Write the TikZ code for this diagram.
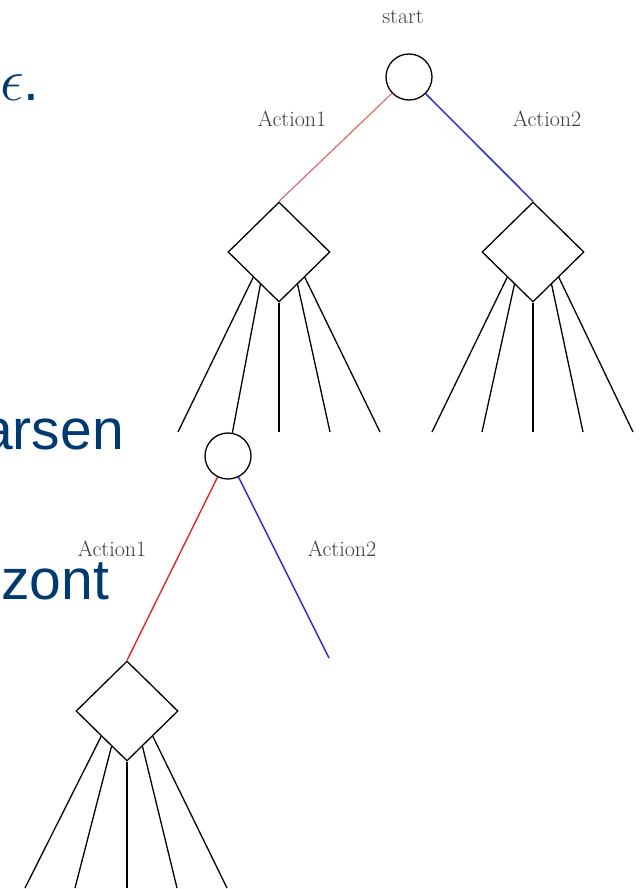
\RequirePackage{fix-cm}
\documentclass[tikz,border=0pt]{standalone}
\usepackage{fontspec}
\newfontfamily\slidefont{Liberation Sans}
\usetikzlibrary{shapes.geometric,calc}
\definecolor{slideblue}{HTML}{003A70}
\definecolor{lblgray}{HTML}{3C3C3C}
\definecolor{redA}{HTML}{E06A6A}
\definecolor{redB}{HTML}{E02828}
\definecolor{blueA}{HTML}{2E2ED2}
\tikzset{
  chance/.style={circle, draw=black, line width=1.3pt, minimum size=46pt, inner sep=0pt},
  decision/.style={diamond, draw=black, line width=1.3pt, minimum width=102pt, minimum height=100pt, inner sep=0pt},
  branch/.style={line width=1.3pt, black},
  act/.style={font=\fontsize{22}{24}\selectfont, text=lblgray, anchor=base, inner sep=0pt},
  slide/.style={font=\slidefont\fontsize{57}{60}\selectfont, text=slideblue, anchor=base west, inner sep=0pt},
  redline/.style={line width=1.2pt, redA},
  redline2/.style={line width=1.4pt, redB},
  blueline/.style={line width=1.5pt, blueA}
}
\begin{document}
\begin{tikzpicture}[x=1pt,y=-1pt]
\useasboundingbox (0,0) rectangle (642,889);
\fill[white] (0,0) rectangle (642,889);

% slide text fragments
\node[slide] (eps) at (0,100) {\fontsize{60}{62}\selectfont$\epsilon$\slidefont\fontsize{57}{60}\selectfont.};
\node[slide] (arsen) at (-19,449) {arsen};
\node[slide] (zont) at (1,599) {zont};

% top tree
\node[act] (start) at (403,23) {start};
\node[chance] (c1) at (409,77) {};
\node[decision] (d1) at (279,252) {};
\node[decision] (d2) at (533,252) {};
\node[act] (a1) at (292,126) {Action1};
\node[act] (a2) at (547,126) {Action2};
\draw[redline] (c1) -- (d1.north);
\draw[blueline] (c1) -- (d2.north);

% leaves of d1
\coordinate (l11) at (178,432);
\coordinate (l13) at (279,432);
\coordinate (l14) at (330,432);
\coordinate (l15) at (380,432);
\node[chance] (c2) at (228,456) {};
\draw[branch] ($(d1.south)!0.5!(d1.west)$) -- (l11);
\draw[branch] ($(d1.south)!0.36!(d1.west)$) -- (c2);
\draw[branch] (d1.south) -- (l13);
\draw[branch] ($(d1.south)!0.36!(d1.east)$) -- (l14);
\draw[branch] ($(d1.south)!0.5!(d1.east)$) -- (l15);

% leaves of d2
\coordinate (l21) at (432,432);
\coordinate (l22) at (482,432);
\coordinate (l23) at (533,432);
\coordinate (l24) at (583,432);
\coordinate (l25) at (633,432);
\draw[branch] ($(d2.south)!0.5!(d2.west)$) -- (l21);
\draw[branch] ($(d2.south)!0.36!(d2.west)$) -- (l22);
\draw[branch] (d2.south) -- (l23);
\draw[branch] ($(d2.south)!0.36!(d2.east)$) -- (l24);
\draw[branch] ($(d2.south)!0.5!(d2.east)$) -- (l25);

% second level
\node[decision] (d3) at (127,711) {};
\coordinate (b2end) at (329,658);
\node[act] (a3) at (112,556) {Action1};
\node[act] (a4) at (342,556) {Action2};
\draw[redline2] (c2) -- (d3.north);
\draw[blueline] (c2) -- (b2end);

% leaves of d3
\coordinate (l31) at (25,888);
\coordinate (l32) at (75,888);
\coordinate (l33) at (127,888);
\coordinate (l34) at (177,888);
\coordinate (l35) at (227,888);
\draw[branch] ($(d3.south)!0.5!(d3.west)$) -- (l31);
\draw[branch] ($(d3.south)!0.3!(d3.west)$) -- (l32);
\draw[branch] (d3.south) -- (l33);
\draw[branch] ($(d3.south)!0.3!(d3.east)$) -- (l34);
\draw[branch] ($(d3.south)!0.5!(d3.east)$) -- (l35);
\end{tikzpicture}
\end{document}
